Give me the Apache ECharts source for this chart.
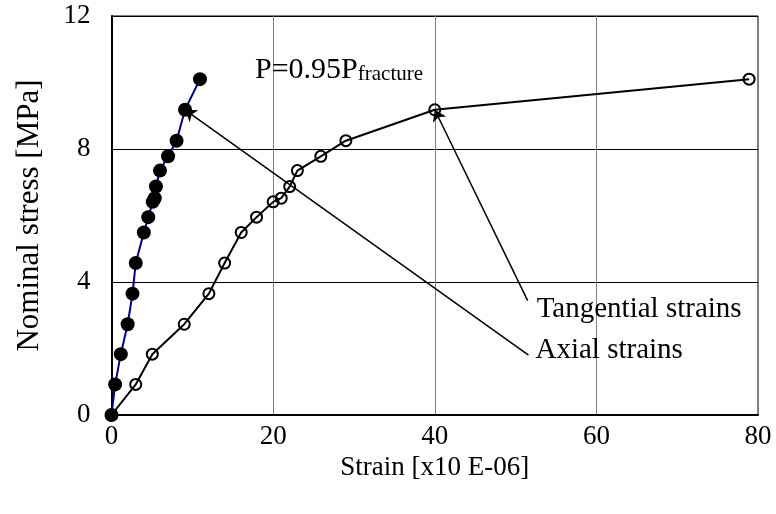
<!DOCTYPE html>
<html>
<head>
<meta charset="utf-8">
<script src="https://cdn.jsdelivr.net/npm/echarts@6/dist/echarts.min.js"></script>
<style>
  html, body { margin: 0; padding: 0; background: #fff; }
  #chart { width: 776px; height: 514px; }
</style>
</head>
<body>
<div id="chart"></div>
<script>
// Stress levels shared by both strain gauges (MPa)
const stress = [0, 0.92, 1.83, 2.73, 3.65, 4.57, 5.49, 5.95, 6.41, 6.52, 6.87, 7.35, 7.78, 8.25, 9.18, 10.1];
// Axial strain readings (x10 E-06)
const axialStrain = [0, 0.45, 1.15, 2.0, 2.6, 3.0, 4.0, 4.55, 5.1, 5.35, 5.5, 6.0, 7.0, 8.05, 9.1, 10.95];
// Tangential strain readings (x10 E-06)
const tangentialStrain = [0, 3.0, 5.05, 9.0, 12.05, 14.0, 16.05, 17.95, 20.0, 21.0, 22.05, 23.0, 25.9, 29.0, 40.0, 78.9];

// Axis ticks
const xTicks = [0, 20, 40, 60, 80];
const yTicks = [0, 4, 8, 12];

// Callout label anchors in data units: [strain, stress]
const tangentialLabelAnchor = [51.5, 3.44];
const axialLabelAnchor = [51.6, 1.80];
const highlightIndex = 14; // P = 0.95 P_fracture

const FONT = '"Liberation Serif", "Times New Roman", serif';

const pairs = (xs, ys) => xs.map((x, i) => [x, ys[i]]);

const chart = echarts.init(document.getElementById('chart'), null, { renderer: 'canvas' });

chart.setOption({
  animation: false,
  backgroundColor: '#fff',
  grid: {
    left: 111.5, right: 18, top: 16, bottom: 99,
    show: true, borderColor: '#000', borderWidth: 1, backgroundColor: 'transparent'
  },
  xAxis: {
    type: 'value',
    min: xTicks[0], max: xTicks[xTicks.length - 1], interval: xTicks[1] - xTicks[0],
    name: 'Strain [x10 E-06]',
    nameLocation: 'middle', nameGap: 37,
    nameTextStyle: { fontFamily: FONT, fontSize: 27, color: '#000' },
    axisLine: { show: true, onZero: false, lineStyle: { color: '#000', width: 2 } },
    axisTick: { show: false },
    axisLabel: { fontFamily: FONT, fontSize: 27, color: '#000', margin: 8 },
    splitLine: { show: true, lineStyle: { color: '#808080', width: 1 } }
  },
  yAxis: {
    type: 'value',
    min: yTicks[0], max: yTicks[yTicks.length - 1], interval: yTicks[1] - yTicks[0],
    name: 'Nominal stress [MPa]',
    nameLocation: 'middle', nameGap: 66,
    nameTextStyle: { fontFamily: FONT, fontSize: 31, color: '#000' },
    axisLine: { show: true, onZero: false, lineStyle: { color: '#000', width: 2 } },
    axisTick: { show: false },
    axisLabel: { fontFamily: FONT, fontSize: 27, color: '#000', margin: 21 },
    splitLine: { show: true, lineStyle: { color: '#000', width: 1 } }
  },
  series: [
    {
      name: 'Tangential strains',
      type: 'line',
      data: pairs(tangentialStrain, stress),
      symbol: 'circle',
      symbolSize: 11,
      itemStyle: { color: 'transparent', borderColor: '#000', borderWidth: 2 },
      lineStyle: { color: '#000', width: 2 },
      z: 3,
      markLine: {
        silent: true,
        symbol: ['none', 'arrow'],
        symbolSize: 11,
        lineStyle: { color: '#000', width: 1.5, type: 'solid' },
        label: { show: false },
        data: [[
          { coord: tangentialLabelAnchor },
          { coord: [tangentialStrain[highlightIndex], stress[highlightIndex]] }
        ]]
      }
    },
    {
      name: 'Axial strains',
      type: 'line',
      data: pairs(axialStrain, stress),
      symbol: 'circle',
      symbolSize: 14,
      itemStyle: { color: '#000', borderColor: '#000', borderWidth: 0 },
      lineStyle: { color: '#000080', width: 2 },
      z: 4,
      markLine: {
        silent: true,
        symbol: ['none', 'arrow'],
        symbolSize: 11,
        lineStyle: { color: '#000', width: 1.5, type: 'solid' },
        label: { show: false },
        data: [[
          { coord: axialLabelAnchor },
          { coord: [axialStrain[highlightIndex], stress[highlightIndex]] }
        ]]
      }
    }
  ]
});

// Callout texts placed next to the start of each arrow
function placeTexts() {
  const tp = chart.convertToPixel({ gridIndex: 0 }, tangentialLabelAnchor);
  const ap = chart.convertToPixel({ gridIndex: 0 }, axialLabelAnchor);
  chart.setOption({
    graphic: [
      {
        type: 'text', x: 255, y: 70, z: 10,
        style: {
          text: '{m|P=0.95P}{s|fracture}',
          verticalAlign: 'middle',
          rich: {
            m: { fontFamily: FONT, fontSize: 30, fill: '#000', verticalAlign: 'bottom' },
            s: { fontFamily: FONT, fontSize: 21, fill: '#000', verticalAlign: 'bottom' }
          }
        }
      },
      {
        type: 'text', x: tp[0] + 9, y: tp[1] + 9, z: 10,
        style: { text: 'Tangential strains', fontFamily: FONT, fontSize: 29, fill: '#000', verticalAlign: 'middle' }
      },
      {
        type: 'text', x: ap[0] + 7, y: ap[1] - 5, z: 10,
        style: { text: 'Axial strains', fontFamily: FONT, fontSize: 29, fill: '#000', verticalAlign: 'middle' }
      }
    ]
  });
}
placeTexts();
</script>
</body>
</html>
